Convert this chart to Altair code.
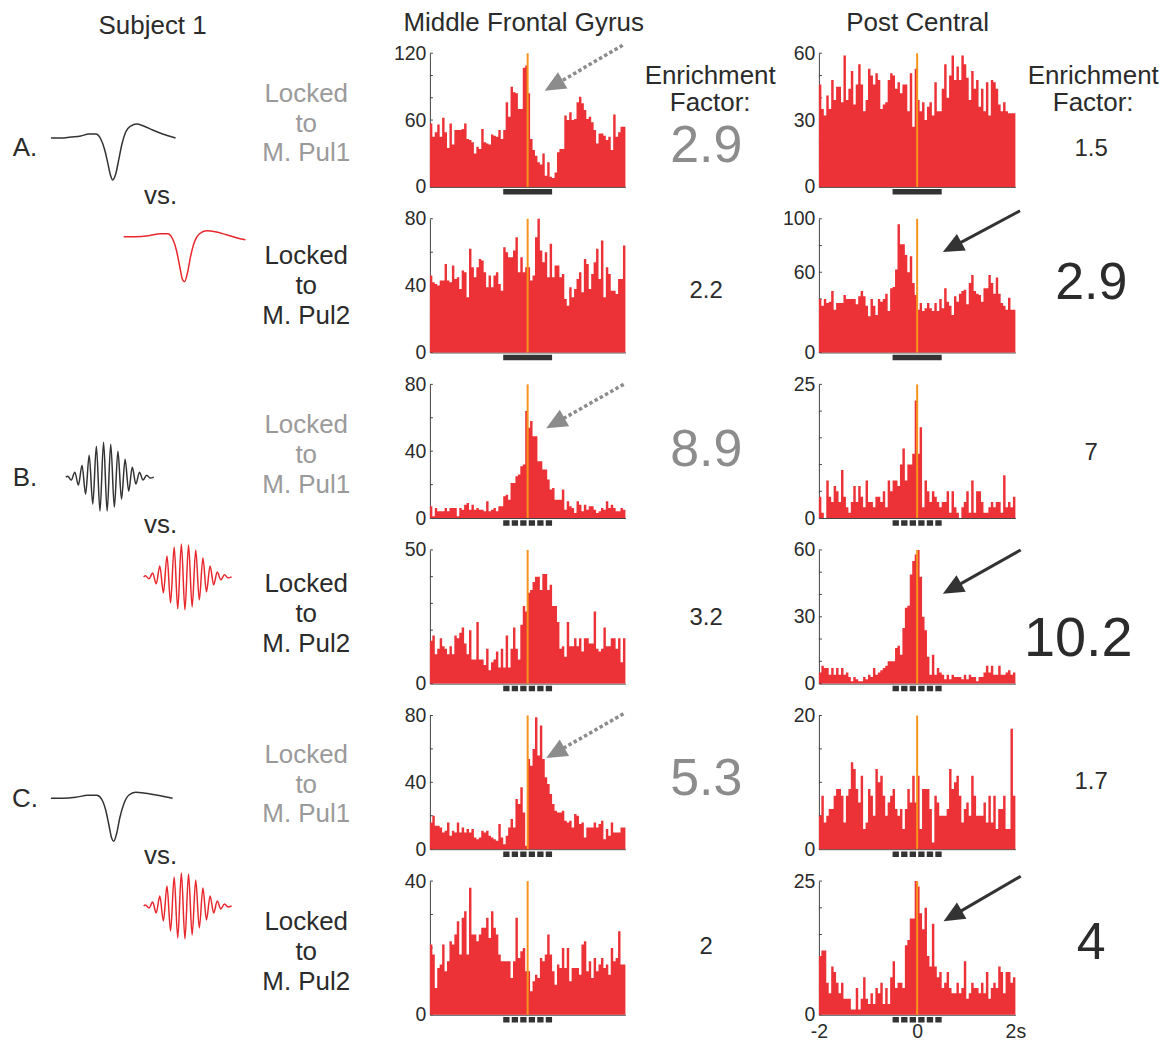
import math
import altair as alt
import pandas as pd

FONT = "Liberation Sans"
RED = "#ED3237"
ORANGE = "#F7941D"
DARK = "#2b2b2b"
GRAY_TXT = "#9a9a9a"
GRAY_NUM = "#8c8c8c"
AXIS_COL = "#444444"
WAVE_BLACK = "#333333"
WAVE_RED = "#E8282D"

# ---------------------------------------------------------------- data
BIN_START = -2.0          # s
BIN_WIDTH = 0.05          # s (80 bins)
STIM_ON, STIM_OFF = -0.5, 0.5

mfg_A_pul1 = [57,45,49,56,45,62,49,35,57,38, 51,51,51,52,57,43,42,40,30,36,
              34,52,40,39,38,47,46,45,51,43, 51,76,63,90,85,84,70,70,107,109,
              84,43,33,28,22,20,30,10,22,9, 8,13,31,34,34,64,60,67,60,61,
              76,81,75,69,61,63,58,51,39,48, 48,46,42,45,33,65,45,49,54,54]
pc_A_pul1 = [46,35,32,41,35,48,39,45,45,38, 59,39,44,52,37,46,55,46,34,39,
             53,50,46,51,48,35,37,38,48,51, 50,44,47,42,46,46,34,51,27,53,
             39,34,38,30,36,38,32,47,34,34, 44,55,40,50,59,48,54,48,59,55,
             49,39,52,44,48,36,44,34,47,32, 48,47,44,37,34,38,34,33,33,33]
mfg_A_pul2 = [46,42,41,40,43,43,53,43,42,52, 44,45,38,49,48,33,62,51,45,51,
              56,55,48,39,46,39,46,48,41,37, 63,60,57,57,61,69,48,57,48,51,
              51,43,46,69,80,61,54,60,45,65, 45,52,52,45,47,32,28,39,33,38,
              44,48,36,56,53,38,47,54,62,44, 67,33,51,47,37,37,35,44,44,64]
pc_A_pul2 = [40,35,40,37,38,46,32,37,37,37, 43,40,40,40,40,36,42,46,42,35,
             27,40,35,28,40,38,40,44,31,48, 49,62,96,81,81,73,60,72,52,43,
             32,37,31,33,37,33,31,37,31,40, 33,48,38,35,28,42,38,44,46,47,
             36,52,58,46,44,43,38,48,48,58, 52,44,56,44,37,35,32,41,32,32]
mfg_B_pul1 = [7,1,6,4,4,4,6,4,6,6, 6,1,6,5,8,9,5,8,5,6,
              5,5,4,10,4,5,6,4,7,7, 13,14,11,21,21,25,26,31,32,64,
              54,58,49,49,34,34,29,29,23,17, 18,11,11,11,17,5,10,7,6,3,
              10,8,4,8,5,7,7,5,3,4, 6,5,10,6,8,6,4,4,6,5]
pc_B_pul1 = [4,1,0,7,4,3,6,5,3,9, 4,2,1,3,6,3,6,4,2,7,
             3,3,2,4,4,3,5,2,7,5, 7,7,6,10,13,7,10,10,12,22,
             12,17,2,7,5,3,5,4,3,2, 3,3,5,1,5,2,1,0,2,3,
             5,1,7,1,5,5,3,1,1,2, 3,2,3,3,1,8,2,3,2,4]
mfg_B_pul2 = [16,18,11,13,17,14,13,11,14,11, 18,17,19,21,15,11,20,9,9,23,
              9,9,7,13,5,8,9,12,6,13, 6,18,6,13,21,13,9,22,29,27,
              34,35,38,40,40,35,41,41,35,37, 29,29,23,13,14,10,23,14,14,17,
              14,17,12,17,17,15,15,27,13,12, 13,21,14,14,17,17,13,17,8,17]
pc_B_pul2 = [5,8,7,7,4,7,4,7,4,7, 4,5,3,1,3,2,1,1,3,2,
             4,3,7,4,5,6,7,8,10,10, 10,16,17,13,25,34,35,49,55,58,
             60,48,30,24,12,4,13,4,7,5, 4,2,4,2,4,3,3,3,2,4,
             2,4,3,3,1,3,3,5,8,5, 8,4,4,8,4,4,5,6,4,5]
mfg_C_pul1 = [16,20,14,14,13,10,11,16,8,11, 10,16,10,13,10,12,10,12,7,6,
              7,11,10,11,8,7,6,5,15,7, 3,8,13,18,13,30,27,37,22,2,
              54,50,60,79,56,74,54,43,39,33, 27,23,22,22,23,17,16,17,13,21,
              20,15,16,7,13,13,13,16,13,15, 17,6,12,8,16,10,10,10,13,13]
pc_C_pul1 = [5,8,4,5,6,6,8,9,9,8, 4,8,9,13,12,9,7,11,3,4,
             9,8,5,12,10,11,8,5,7,8, 9,6,5,6,3,6,9,7,11,7,
             11,3,9,9,9,6,1,8,7,5, 5,5,6,12,9,10,11,8,4,6,
             7,5,11,8,5,5,5,7,4,8, 4,8,3,6,6,8,3,3,18,8]
mfg_C_pul2 = [21,18,8,14,15,21,13,16,22,21, 24,28,18,29,31,18,38,24,24,22,
              24,26,26,29,23,31,26,24,18,16, 16,16,16,11,16,29,17,19,20,13,
              13,7,10,12,11,17,16,18,24,18, 13,9,15,14,20,14,20,10,14,14,
              14,12,21,22,13,16,11,17,13,15, 17,14,15,12,20,16,17,25,15,15]
pc_C_pul2 = [11,12,12,6,4,9,8,6,4,6, 3,3,3,1,1,5,1,3,7,3,
             2,4,2,5,4,6,2,5,2,7, 10,5,6,6,5,13,14,18,18,25,
             24,19,16,20,11,9,17,9,7,8, 5,6,8,5,4,4,6,4,5,10,
             3,4,6,5,5,4,6,4,8,3, 5,6,5,9,8,4,8,8,6,7]

hist_mfg = [mfg_A_pul1, mfg_A_pul2, mfg_B_pul1, mfg_B_pul2, mfg_C_pul1, mfg_C_pul2]
hist_pc = [pc_A_pul1, pc_A_pul2, pc_B_pul1, pc_B_pul2, pc_C_pul1, pc_C_pul2]

ymax_mfg = [120, 80, 80, 50, 80, 40]
ymax_pc = [60, 100, 25, 60, 20, 25]
ystep_mfg = [20, 20, 20, 10, 20, 10]
ystep_pc = [10, 20, 5, 10, 5, 5]
ylabels_mfg = [[0, 60, 120], [0, 40, 80], [0, 40, 80], [0, 50], [0, 40, 80], [0, 40]]
ylabels_pc = [[0, 30, 60], [0, 60, 100], [0, 25], [0, 30, 60], [0, 20], [0, 25]]
x_tick_labels = [-2, 0, 2]

enrich_mfg = ["2.9", "2.2", "8.9", "3.2", "5.3", "2"]
enrich_pc = ["1.5", "2.9", "7", "10.2", "1.7", "4"]
locked_to = ["M. Pul1", "M. Pul2", "M. Pul1", "M. Pul2", "M. Pul1", "M. Pul2"]
letters = ["A.", None, "B.", None, "C.", None]

# waveform shapes (relative samples, amplitude in px, + = down)
spike_A_dx = [0,10,20,30,38,45,50,54,57,60,62,65,68,71,75,80,86,93,102,112,125]
spike_A_dy = [0,0,-1,-2,-4,-4,1,12,25,38,42,36,22,7,-6,-12,-14,-12,-8,-4,0]
spike_red_dx = [0,12,25,37,44,49,53,56,59,61,64,67,71,76,83,92,103,113,122]
spike_red_dy = [0,0,-1,-3,-3,2,14,29,43,45,36,20,5,-3,-6,-5,-2,1,3]
spike_C_dx = [0,12,25,37,46,51,55,58,61,63,66,69,73,78,85,95,107,122]
spike_C_dy = [0,0,-1,-3,-3,1,12,26,40,43,35,20,6,-3,-6,-5,-3,0]
burst_B_amp = [1,3,5,8,12,17,22,27,31,34,35,34,33,30,26,22,18,14,10,7,5,3,2,1]
burst_red4_amp = [1,2,4,7,11,16,21,26,30,32,33,33,32,30,27,23,19,15,11,8,5,3,2,1]
burst_red6_amp = [1,2,4,7,10,15,20,25,29,32,33,33,32,29,26,22,18,14,10,7,5,3,2,1]
HALF_CYCLE = 3.6

# ---------------------------------------------------------------- layout
W_LEFT, W_MFG, W_EF1, W_PC, W_EF2 = 422, 196, 194, 197, 150
H = 134
ROW_GAP = 32
LABEL_FS = 26
TICK_FS = 19.5

label_y = [(41, 71, 100), (37, 67, 97), (41, 71, 101), (34, 64, 94), (40, 70, 99), (41, 71, 101)]
letter_y = [95, None, 94, None, 84, None]
vs_y = [143, None, 141, None, 141, None]
label_col = [GRAY_TXT, DARK, GRAY_TXT, DARK, GRAY_TXT, DARK]

ef1_style = [(81, 93, 52, GRAY_NUM), (81, 72, 24, DARK), (81, 66, 52, GRAY_NUM),
             (81, 68, 24, DARK), (81, 64, 52, GRAY_NUM), (81, 66, 24, DARK)]
ef2_style = [(76, 96, 24, DARK), (76, 64, 52, DARK), (76, 69, 24, DARK),
             (63, 89, 56, DARK), (76, 67, 24, DARK), (76, 62, 52, DARK)]

def burst(amp):
    dx, dy = [0.0], [0.0]
    for k, a in enumerate(amp):
        dx.append(1.8 + HALF_CYCLE * k)
        dy.append(-a if k % 2 == 0 else a)
    dx.append(1.8 + HALF_CYCLE * len(amp))
    dy.append(0.0)
    return dx, dy

waves = [
    (spike_A_dx, spike_A_dy, (42, 85), WAVE_BLACK),
    (spike_red_dx, spike_red_dy, (115, 18), WAVE_RED),
    (*burst(burst_B_amp), (57, 93), WAVE_BLACK),
    (*burst(burst_red4_amp), (135, 27), WAVE_RED),
    (spike_C_dx, spike_C_dy, (42, 83), WAVE_BLACK),
    (*burst(burst_red6_amp), (135, 25), WAVE_RED),
]

# arrows: (start, tip) in data units (s, count)
arrows_mfg = {0: ((1.945, 127.2), (0.347, 86.2)),
              2: ((1.965, 80.0), (0.38, 53.7)),
              4: ((1.96, 81.0), (0.38, 54.5))}
arrows_pc = {1: ((2.095, 106.0), (0.524, 75.1)),
             3: ((2.108, 60.0), (0.524, 40.3)),
             5: ((2.108, 25.9), (0.538, 17.5))}
HEAD_PATH = "M0,-1L0.9,1L-0.9,1Z"
HEAD_LEN = 21


def text_layer(rows):
    df = pd.DataFrame(rows, columns=["label", "px", "py", "fs", "col"])
    return alt.Chart(df).mark_text(font=FONT, align="center", baseline="middle").encode(
        x=alt.X("px:Q", scale=None, axis=None),
        y=alt.Y("py:Q", scale=None, axis=None),
        text="label:N",
        color=alt.Color("col:N", scale=None),
        size=alt.Size("fs:Q", scale=None),
    )


def left_panel(r):
    dx, dy, (ox, oy), col = waves[r]
    wdf = pd.DataFrame({"px": [ox + v for v in dx], "py": [oy + v for v in dy],
                        "k": list(range(len(dx))), "col": col})
    line = alt.Chart(wdf).mark_line(interpolate="monotone", strokeWidth=1.5).encode(
        x=alt.X("px:Q", scale=None, axis=None),
        y=alt.Y("py:Q", scale=None, axis=None),
        color=alt.Color("col:N", scale=None),
        order="k:Q",
    )
    rows = []
    ly = label_y[r]
    for txt, yy in zip(["Locked", "to", locked_to[r]], ly):
        rows.append((txt, 298, yy, LABEL_FS, label_col[r]))
    if letters[r]:
        rows.append((letters[r], 16, letter_y[r], LABEL_FS, DARK))
        rows.append(("vs.", 152, vs_y[r], LABEL_FS, DARK))
    if r == 0:
        rows.append(("Subject 1", 144, -27, LABEL_FS, DARK))
        rows.append(("Middle Frontal Gyrus", 516, -30, LABEL_FS, DARK))
        rows.append(("Post Central", 911, -30, LABEL_FS, DARK))
    return alt.layer(line, text_layer(rows)).properties(width=W_LEFT, height=H)


def ef_panel(r, values, style, width, head_x):
    x, y, fs, col = style[r]
    rows = [(values[r], x, y, fs, col)]
    if r == 0:
        rows.append(("Enrichment", head_x, 23, LABEL_FS, DARK))
        rows.append(("Factor:", head_x, 50, LABEL_FS, DARK))
    return text_layer(rows).properties(width=width, height=H)


def hist_panel(values, ymax, step, label_vals, dashed, width, arrow=None, arrow_style=None,
               show_x=False):
    t0 = [BIN_START + BIN_WIDTH * i for i in range(len(values))]
    # step outline: each bin value holds until the next bin edge; close at the last edge
    df = pd.DataFrame({"t": t0 + [t0[-1] + BIN_WIDTH], "count": list(values) + [values[-1]]})
    xs = alt.Scale(domain=[-2, 2], nice=False, zero=False)
    ys = alt.Scale(domain=[0, ymax], nice=False)
    xax = alt.Axis(title=None, ticks=False, labels=show_x, grid=False, domain=True,
                   domainColor=AXIS_COL, domainWidth=1, values=x_tick_labels,
                   labelFlush=False,
                   labelExpr="datum.value > 1 ? '\u00a0\u00a02s' : (datum.value < -1 ? '-2' : '0')",
                   labelFont=FONT, labelFontSize=TICK_FS, labelColor=DARK, labelPadding=8)
    yax = alt.Axis(title=None, ticks=False, grid=False, domain=True, domainColor=AXIS_COL,
                   domainWidth=1, values=label_vals, labelFont=FONT, labelFontSize=TICK_FS,
                   labelColor=DARK, labelPadding=4)

    def X(f):
        return alt.X(f, type="quantitative", scale=xs, axis=xax)

    def Y(f):
        return alt.Y(f, type="quantitative", scale=ys, axis=yax)

    sx = width / 4.0
    sy = H / ymax
    tick_df = pd.DataFrame({"v": list(range(0, ymax + 1, step))})
    tick_df["ta"] = -2.0
    tick_df["tb"] = -2.0 + 3.0 / sx
    ticks = alt.Chart(tick_df).mark_rule(color=AXIS_COL, strokeWidth=1).encode(
        x=X("ta"), x2="tb", y=Y("v"))
    bars = alt.Chart(df).mark_area(color=RED, interpolate="step-after", opacity=1).encode(
        x=X("t"), y=Y("count"))
    stim_df = pd.DataFrame({"t": [0.0], "y0": [0], "y1": [ymax]})
    stim = alt.Chart(stim_df).mark_rule(color=ORANGE, strokeWidth=2).encode(
        x=X("t"), y=Y("y0"), y2="y1")
    mk_df = pd.DataFrame({"a": [STIM_ON], "b": [STIM_OFF], "y": [-5.0 / sy]})
    seg = (STIM_OFF - STIM_ON) * sx
    d = seg / 7.75
    mk_kw = dict(color="#333333", strokeWidth=5.5, strokeCap="butt")
    if dashed:
        mk_kw["strokeDash"] = [round(d, 2), round(0.35 * d, 2)]
    marker = alt.Chart(mk_df).mark_rule(**mk_kw).encode(x=X("a"), x2="b", y=Y("y"))
    layers = [ticks, bars, stim, marker]
    if arrow is not None:
        (x0, y0), (x1, y1) = arrow
        dxp = (x1 - x0) * sx
        dyp = -(y1 - y0) * sy
        L = math.hypot(dxp, dyp)
        ux, uy = dxp / L, dyp / L
        cx = x1 - (HEAD_LEN / 2) * ux / sx
        cy = y1 + (HEAD_LEN / 2) * uy / sy
        ang = math.degrees(math.atan2(ux, -uy)) % 360
        col, sw, dash = arrow_style
        ldf = pd.DataFrame({"xa": [x0], "ya": [y0], "xb": [cx], "yb": [cy]})
        lkw = dict(color=col, strokeWidth=sw, strokeCap="butt")
        if dash:
            lkw["strokeDash"] = dash
        layers.append(alt.Chart(ldf).mark_rule(**lkw).encode(
            x=X("xa"), y=Y("ya"), x2="xb", y2="yb"))
        hdf = pd.DataFrame({"hx": [cx], "hy": [cy]})
        layers.append(alt.Chart(hdf).mark_point(
            shape=HEAD_PATH, filled=True, size=HEAD_LEN ** 2, angle=round(ang, 1),
            color=col, opacity=1, strokeWidth=0).encode(x=X("hx"), y=Y("hy")))
    return alt.layer(*layers).properties(width=width, height=H)


panels = []
for r in range(6):
    dashed = r >= 2
    mfg = hist_panel(hist_mfg[r], ymax_mfg[r], ystep_mfg[r], ylabels_mfg[r], dashed, W_MFG,
                     arrows_mfg.get(r), (GRAY_NUM, 3.5, [3.5, 2.5]))
    pc = hist_panel(hist_pc[r], ymax_pc[r], ystep_pc[r], ylabels_pc[r], dashed, W_PC,
                    arrows_pc.get(r), ("#333333", 3, None), show_x=(r == 5))
    panels += [left_panel(r), mfg, ef_panel(r, enrich_mfg, ef1_style, W_EF1, 85),
               pc, ef_panel(r, enrich_pc, ef2_style, W_EF2, 78)]

chart = alt.concat(*panels, columns=5, spacing={"row": ROW_GAP, "column": 0},
                   bounds="flush").properties(
    padding={"left": 0, "top": 0, "right": 0, "bottom": 0},
    background="white",
).configure_view(stroke="transparent")

chart.save("out.html", embed_options={"renderer": "svg", "actions": False})
